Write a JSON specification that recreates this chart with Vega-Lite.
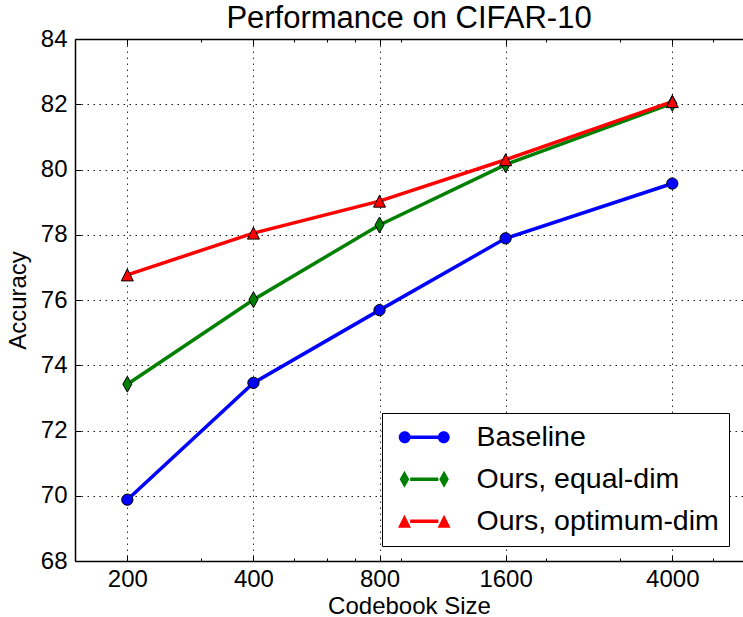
{
  "$schema": "https://vega.github.io/schema/vega-lite/v6.json",
  "width": 668,
  "height": 522,
  "autosize": {"type": "none"},
  "padding": {"left": 75, "top": 39, "right": 0, "bottom": 56},
  "background": "white",
  "title": {"text": "Performance on CIFAR-10", "fontSize": 31, "font": "Liberation Sans", "fontWeight": "normal", "color": "#000", "anchor": "middle", "offset": -8},
  "config": {
    "font": "Liberation Sans",
    "view": {"stroke": null},
    "axis": {
      "domainColor": "#000", "domainWidth": 1.5, "tickColor": "#000", "tickWidth": 1,
      "labelColor": "#000", "titleColor": "#000", "labelFontSize": 24, "titleFontSize": 24,
      "titleFontWeight": "normal", "labelFont": "Liberation Sans", "titleFont": "Liberation Sans",
      "gridColor": "#000", "gridDash": [1.5, 4.5], "gridWidth": 1, "gridOpacity": 0.9
    }
  },
  "data": {"values": [
    {"size": 200, "acc": 69.88, "series": "Baseline"},
    {"size": 400, "acc": 73.46, "series": "Baseline"},
    {"size": 800, "acc": 75.69, "series": "Baseline"},
    {"size": 1600, "acc": 77.89, "series": "Baseline"},
    {"size": 4000, "acc": 79.57, "series": "Baseline"},
    {"size": 200, "acc": 73.42, "series": "Ours, equal-dim"},
    {"size": 400, "acc": 76.01, "series": "Ours, equal-dim"},
    {"size": 800, "acc": 78.3, "series": "Ours, equal-dim"},
    {"size": 1600, "acc": 80.15, "series": "Ours, equal-dim"},
    {"size": 4000, "acc": 82.03, "series": "Ours, equal-dim"},
    {"size": 200, "acc": 76.77, "series": "Ours, optimum-dim"},
    {"size": 400, "acc": 78.05, "series": "Ours, optimum-dim"},
    {"size": 800, "acc": 79.03, "series": "Ours, optimum-dim"},
    {"size": 1600, "acc": 80.3, "series": "Ours, optimum-dim"},
    {"size": 4000, "acc": 82.08, "series": "Ours, optimum-dim"}
  ]},
  "resolve": {"axis": {"x": "independent", "y": "independent"}, "scale": {"shape": "independent", "fill": "independent"}, "legend": {"color": "independent", "fill": "independent", "shape": "independent"}},
  "layer": [
    {
      "mark": {"type": "line", "strokeWidth": 3.5},
      "encoding": {
        "x": {"field": "size", "type": "quantitative",
          "scale": {"type": "log", "domain": [150, 5900], "nice": false},
          "axis": {"orient": "bottom",
            "values": [200, 300, 400, 500, 600, 700, 800, 900, 1600, 2000, 3000, 4000, 5000],
            "format": "d",
            "labelExpr": "(datum.value==200||datum.value==400||datum.value==800||datum.value==1600||datum.value==4000) ? datum.label : ''",
            "tickSize": {"condition": {"test": "datum.value==200||datum.value==400||datum.value==800||datum.value==1600||datum.value==4000", "value": -6}, "value": -3},
            "gridOpacity": {"condition": {"test": "datum.value==200||datum.value==400||datum.value==800||datum.value==1600||datum.value==4000", "value": 0.9}, "value": 0},
            "grid": true, "labelPadding": 12, "labelFlush": false, "labelOverlap": false,
            "title": "Codebook Size", "titlePadding": 0}},
        "y": {"field": "acc", "type": "quantitative",
          "scale": {"domain": [68, 84], "nice": false, "zero": false},
          "axis": {"orient": "left", "values": [68, 70, 72, 74, 76, 78, 80, 82, 84], "tickSize": -6, "grid": true,
            "labelPadding": 14, "title": "Accuracy", "titlePadding": 10}},
        "color": {"field": "series", "type": "nominal",
          "scale": {"domain": ["Baseline", "Ours, equal-dim", "Ours, optimum-dim"], "range": ["#0000ff", "#008000", "#ff0000"]},
          "legend": {"orient": "none", "legendX": 307, "legendY": 374, "title": null,
            "symbolType": "M-1.41,0L1.41,0", "symbolSize": 400, "symbolStrokeWidth": 3.5,
            "labelFontSize": 28.5, "labelColor": "#000", "labelOffset": 38, "symbolOffset": 18,
            "rowPadding": 13, "padding": 10, "strokeColor": "#000", "fillColor": "white", "labelLimit": 400,
            "encode": {"legend": {"strokeWidth": {"value": 1.5}}}}}
      }
    },
    {
      "mark": {"type": "point", "filled": true, "stroke": "#000", "strokeWidth": 1, "opacity": 1, "size": 144},
      "encoding": {
        "x": {"field": "size", "type": "quantitative",
          "scale": {"type": "log", "domain": [150, 5900], "nice": false},
          "axis": {"orient": "top",
            "values": [200, 300, 400, 500, 600, 700, 800, 900, 1600, 2000, 3000, 4000, 5000],
            "labels": false, "grid": false, "title": null,
            "tickSize": {"condition": {"test": "datum.value==200||datum.value==400||datum.value==800||datum.value==1600||datum.value==4000", "value": -6}, "value": -3}}},
        "y": {"field": "acc", "type": "quantitative", "scale": {"domain": [68, 84], "nice": false, "zero": false}, "axis": null},
        "fill": {"field": "series", "type": "nominal", "legend": null,
          "scale": {"range": ["#0000ff", "#008000", "#ff0000"]}},
        "shape": {"field": "series", "type": "nominal", "legend": null,
          "scale": {"range": ["M-0.94,0A0.94,0.94 0 1,0 0.94,0A0.94,0.94 0 1,0 -0.94,0Z", "M0,-1.33L0.75,0L0,1.33L-0.75,0Z", "M0,-1L1,1L-1,1Z"]}}
      }
    },
    {
      "mark": {"type": "point", "filled": true, "stroke": "#000", "strokeWidth": 1, "opacity": 0, "size": 144},
      "encoding": {
        "x": {"field": "size", "type": "quantitative", "scale": {"type": "log", "domain": [150, 5900], "nice": false}, "axis": null},
        "y": {"field": "acc", "type": "quantitative", "scale": {"domain": [68, 84], "nice": false, "zero": false}, "axis": null},
        "fill": {"field": "series", "type": "nominal",
          "scale": {"range": ["#0000ff", "#008000", "#ff0000"]},
          "legend": {"orient": "none", "legendX": 307, "legendY": 374, "title": null,
            "symbolSize": 400, "symbolStrokeColor": "#000", "symbolStrokeWidth": 1, "symbolOpacity": 1,
            "labelFontSize": 28.5, "labelColor": "transparent", "labelOffset": 38, "symbolOffset": 18,
            "rowPadding": 13, "padding": 10, "labelLimit": 400}},
        "shape": {"field": "series", "type": "nominal",
          "scale": {"range": ["M-2.55,0A0.6,0.6 0 1,0 -1.35,0A0.6,0.6 0 1,0 -2.55,0Z M1.35,0A0.6,0.6 0 1,0 2.55,0A0.6,0.6 0 1,0 1.35,0Z", "M-1.98,-0.85L-1.5,0L-1.98,0.85L-2.46,0Z M1.98,-0.85L2.46,0L1.98,0.85L1.5,0Z", "M-1.98,-0.65L-1.33,0.65L-2.63,0.65Z M1.98,-0.65L2.63,0.65L1.33,0.65Z"]},
          "legend": {"orient": "none", "legendX": 307, "legendY": 374, "title": null,
            "symbolSize": 400, "symbolStrokeColor": "#000", "symbolStrokeWidth": 1, "symbolOpacity": 1,
            "labelFontSize": 28.5, "labelColor": "transparent", "labelOffset": 38, "symbolOffset": 18,
            "rowPadding": 13, "padding": 10, "labelLimit": 400}}
      }
    }
  ]
}
